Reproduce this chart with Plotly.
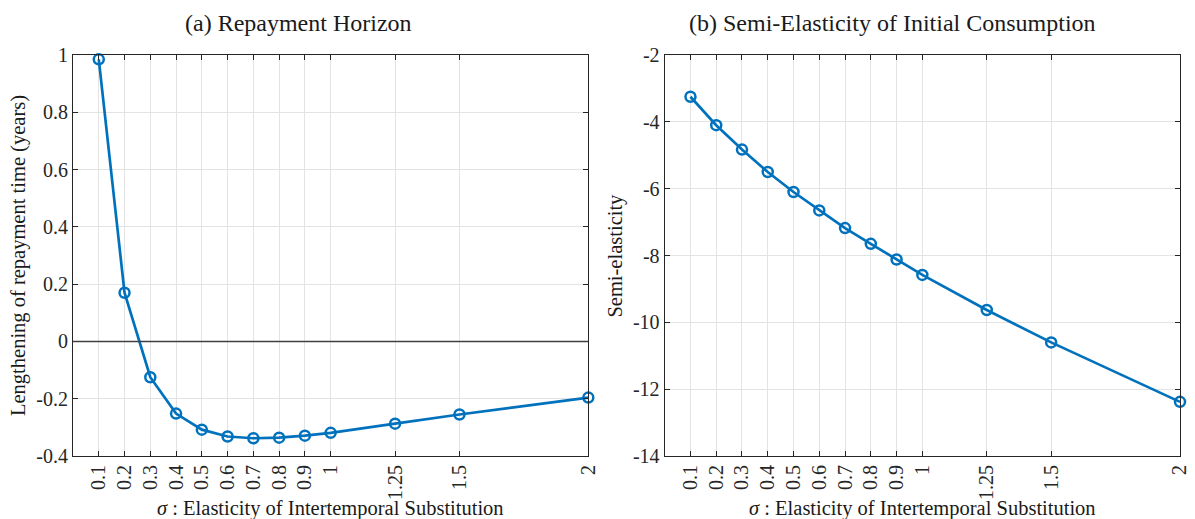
import plotly.graph_objects as go
from plotly.subplots import make_subplots

# elasticity of intertemporal substitution
sigma = [0.1, 0.2, 0.3, 0.4, 0.5, 0.6, 0.7, 0.8, 0.9, 1.0, 1.25, 1.5, 2.0]
sigma_labels = ["0.1", "0.2", "0.3", "0.4", "0.5", "0.6", "0.7", "0.8", "0.9", "1", "1.25", "1.5", "2"]

# (a) lengthening of repayment time, years
repay = [0.985, 0.17, -0.125, -0.252, -0.308, -0.332, -0.338, -0.336, -0.329, -0.319, -0.287, -0.255, -0.196]
repay_ticks = [-0.4, -0.2, 0, 0.2, 0.4, 0.6, 0.8, 1]
repay_labels = ["-0.4", "-0.2", "0", "0.2", "0.4", "0.6", "0.8", "1"]

# (b) semi-elasticity of initial consumption
semi = [-3.25, -4.1, -4.83, -5.5, -6.1, -6.65, -7.18, -7.65, -8.12, -8.58, -9.63, -10.6, -12.38]
semi_ticks = [-14, -12, -10, -8, -6, -4, -2]
semi_labels = ["-14", "-12", "-10", "-8", "-6", "-4", "-2"]

blue = "#0072BD"
axcol = "#262626"
font = "Liberation Serif, DejaVu Serif, serif"

fig = make_subplots(rows=1, cols=2)

for col, yy in [(1, repay), (2, semi)]:
    fig.add_trace(go.Scatter(x=sigma, y=yy, mode="lines+markers",
                             line=dict(color=blue, width=2.7),
                             marker=dict(symbol="circle-open", size=10, color=blue,
                                         line=dict(width=2.5, color=blue)),
                             showlegend=False, cliponaxis=False),
                  row=1, col=col)

# zero line in panel (a)
fig.add_hline(y=0, line=dict(color="#404040", width=1.6), layer="above", row=1, col=1)

axis_common = dict(showline=True, linecolor=axcol, linewidth=1.2, mirror="ticks",
                   ticks="inside", ticklen=5, tickcolor=axcol, tickwidth=1,
                   showgrid=True, gridcolor="#e3e3e3", gridwidth=1, zeroline=False,
                   tickfont=dict(family=font, size=20, color=axcol))

fig.update_xaxes(axis_common, range=[0, 2], tickmode="array", tickvals=sigma,
                 ticktext=sigma_labels, tickangle=-90)
fig.update_xaxes(domain=[0, 0.4655], row=1, col=1)
fig.update_xaxes(domain=[0.5345, 1], row=1, col=2)
fig.update_yaxes(axis_common)
fig.update_yaxes(range=[-0.4, 1], tickmode="array", tickvals=repay_ticks,
                 ticktext=repay_labels, row=1, col=1)
fig.update_yaxes(range=[-14, -2], tickmode="array", tickvals=semi_ticks,
                 ticktext=semi_labels, row=1, col=2)

def note(text, x, y, size, angle=0):
    fig.add_annotation(text=text, xref="paper", yref="paper", x=x, y=y,
                       xanchor="center", yanchor="middle", showarrow=False,
                       textangle=angle, font=dict(family=font, size=size, color="#1a1a1a"))

note("(a) Repayment Horizon", 0.2041, 1.079, 24)
note("(b) Semi-Elasticity of Initial Consumption", 0.740, 1.079, 24)
note("Lengthening of repayment time (years)", -0.0492, 0.5, 20.5, -90)
note("Semi-elasticity", 0.4897, 0.5, 20.5, -90)
note("<i>σ</i> : Elasticity of Intertemporal Substitution", 0.2328, -0.1297, 20.5)
note("<i>σ</i> : Elasticity of Intertemporal Substitution", 0.7672, -0.1297, 20.5)

# page body has an 8px margin, so the figure is a bit smaller than the window
fig.update_layout(width=1187, height=511, margin=dict(l=65, r=5, t=47, b=63),
                  plot_bgcolor="white", paper_bgcolor="white",
                  font=dict(family=font))

fig.write_html("out.html")
